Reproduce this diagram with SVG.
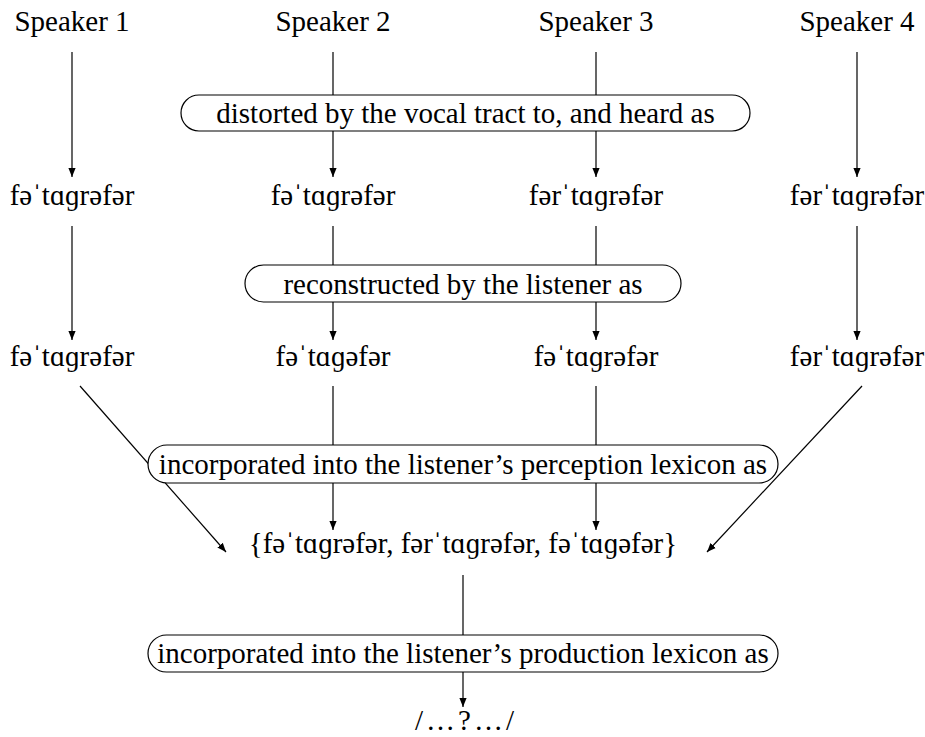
<svg xmlns="http://www.w3.org/2000/svg" width="925" height="737" viewBox="0 0 925 737">
<defs>
<marker id="ah" viewBox="0 0 10 10" refX="10" refY="5" markerWidth="9" markerHeight="9" markerUnits="userSpaceOnUse" orient="auto">
<path d="M0,1 L10,5 L0,9 Z" fill="#000"/>
</marker>
</defs>
<style>
text{font-family:"Liberation Serif","DejaVu Serif",serif;font-size:29px;fill:#000;text-anchor:middle}
.box{fill:#fff;stroke:#000;stroke-width:1.2}
.ln{stroke:#000;stroke-width:1.2;fill:none}
.ar{stroke:#000;stroke-width:1.2;fill:none;marker-end:url(#ah)}
</style>
<rect width="925" height="737" fill="#fff"/>
<g id="connectors">
<line class="ar" x1="72" y1="52" x2="72" y2="177"/>
<line class="ln" x1="333" y1="52" x2="333" y2="95"/>
<line class="ln" x1="596" y1="52" x2="596" y2="95"/>
<line class="ar" x1="857" y1="52" x2="857" y2="177"/>
<line class="ar" x1="333" y1="131" x2="333" y2="177"/>
<line class="ar" x1="596" y1="131" x2="596" y2="177"/>
<line class="ar" x1="72" y1="226" x2="72" y2="340"/>
<line class="ln" x1="333" y1="226" x2="333" y2="265"/>
<line class="ln" x1="596" y1="226" x2="596" y2="265"/>
<line class="ar" x1="857" y1="226" x2="857" y2="340"/>
<line class="ar" x1="333" y1="302" x2="333" y2="340"/>
<line class="ar" x1="596" y1="302" x2="596" y2="340"/>
<line class="ln" x1="333" y1="386" x2="333" y2="445"/>
<line class="ln" x1="596" y1="386" x2="596" y2="445"/>
<line class="ar" x1="333" y1="483" x2="333" y2="530"/>
<line class="ar" x1="596" y1="483" x2="596" y2="530"/>
<line class="ar" x1="80" y1="386" x2="226" y2="552"/>
<line class="ar" x1="862" y1="386" x2="707" y2="552"/>
<line class="ln" x1="463" y1="575" x2="463" y2="635"/>
<line class="ar" x1="463" y1="672" x2="463" y2="707"/>
</g>
<g id="speaker1"><text x="72" y="31">Speaker 1</text></g>
<g id="speaker2"><text x="333" y="31">Speaker 2</text></g>
<g id="speaker3"><text x="596" y="31">Speaker 3</text></g>
<g id="speaker4"><text x="857" y="31">Speaker 4</text></g>
<g id="box1"><rect class="box" x="181" y="95" width="569" height="36" rx="18"/><text x="465.5" y="123">distorted by the vocal tract to, and heard as</text></g>
<g id="heard1"><text x="72" y="205">fəˈtɑɡrəfər</text></g>
<g id="heard2"><text x="333" y="205">fəˈtɑɡrəfər</text></g>
<g id="heard3"><text x="596" y="205">fərˈtɑɡrəfər</text></g>
<g id="heard4"><text x="857" y="205">fərˈtɑɡrəfər</text></g>
<g id="box2"><rect class="box" x="245" y="265" width="436" height="37" rx="18.5"/><text x="463" y="294">reconstructed by the listener as</text></g>
<g id="rec1"><text x="72" y="366">fəˈtɑɡrəfər</text></g>
<g id="rec2"><text x="333" y="366">fəˈtɑɡəfər</text></g>
<g id="rec3"><text x="596" y="366">fəˈtɑɡrəfər</text></g>
<g id="rec4"><text x="857" y="366">fərˈtɑɡrəfər</text></g>
<g id="box3"><rect class="box" x="148" y="445" width="630" height="38" rx="19"/><text x="463" y="474">incorporated into the listener’s perception lexicon as</text></g>
<g id="set"><text x="463" y="553">{fəˈtɑɡrəfər, fərˈtɑɡrəfər, fəˈtɑɡəfər}</text></g>
<g id="box4"><rect class="box" x="148" y="635" width="630" height="37" rx="18.5"/><text x="463" y="663">incorporated into the listener’s production lexicon as</text></g>
<g id="result"><text x="466" y="730" letter-spacing="3">/…?…/</text></g>
</svg>
